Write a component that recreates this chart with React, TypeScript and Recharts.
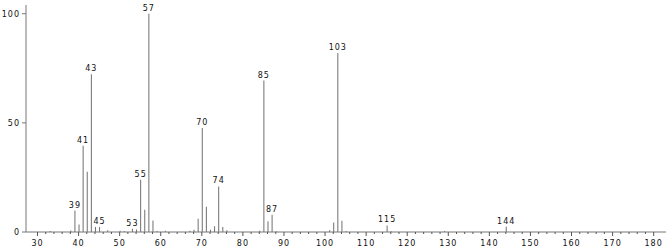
import React from 'react';
import { ComposedChart, Bar, XAxis, YAxis, LabelList } from 'recharts';

const masses = [33, 38, 39, 40, 41, 42, 43, 44, 45, 47, 50, 51, 53, 54, 55, 56, 57, 58, 59, 61, 67, 68, 69, 70, 71, 72, 73, 74, 75, 76, 84, 85, 86, 87, 88, 101, 102, 103, 104, 105, 115, 116, 129, 144];
const intensities = [0.5, 0.7, 9.8, 3.4, 39.5, 27.6, 72.3, 2.3, 2.3, 0.8, 0.6, 0.5, 1.5, 1.1, 23.9, 10.2, 100, 5.3, 0.5, 0.6, 0.6, 1.0, 6.1, 47.7, 11.6, 1.0, 2.6, 20.9, 2.3, 0.8, 0.6, 69.4, 4.9, 7.9, 0.4, 0.8, 4.4, 82.0, 5.2, 0.5, 3.0, 0.4, 0.5, 2.4];
const labeledMasses = [39, 41, 43, 45, 53, 55, 57, 70, 74, 85, 87, 103, 115, 144];
const xTicks = [30, 32, 34, 36, 38, 40, 42, 44, 46, 48, 50, 52, 54, 56, 58, 60, 62, 64, 66, 68, 70, 72, 74, 76, 78, 80, 82, 84, 86, 88, 90, 92, 94, 96, 98, 100, 102, 104, 106, 108, 110, 112, 114, 116, 118, 120, 122, 124, 126, 128, 130, 132, 134, 136, 138, 140, 142, 144, 146, 148, 150, 152, 154, 156, 158, 160, 162, 164, 166, 168, 170, 172, 174, 176, 178, 180];
const yTicks = [0, 50, 100];

const data = masses.map((m, i) => ({ mz: m, abundance: intensities[i] }));

const font = 'Verdana, "DejaVu Sans", sans-serif';

const XTick = (props: any) => {
    const { x, y, payload } = props;
    const major = payload.value % 10 === 0;
    return (
        <g>
            <line x1={x} y1={y} x2={x} y2={y + (major ? 4 : 2)} stroke="#555" />
            {major && (
                <text x={x} y={y + 14} textAnchor="middle" fontSize={8} fill="#111" fontFamily={font} letterSpacing={1}>
                    {payload.value}
                </text>
            )}
        </g>
    );
};

const PeakLabel = (props: any) => {
    const { x, y, width, index } = props;
    const m = masses[index];
    if (!labeledMasses.includes(m)) return null;
    return (
        <text x={x + width / 2} y={y - 3} textAnchor="middle" fontSize={8} fill="#111" fontFamily={font} letterSpacing={1}>
            {m}
        </text>
    );
};

const App = () => {
    return (
        <div>
            <style>{'body{margin:0}'}</style>
            <ComposedChart width={667} height={249} data={data} margin={{ top: 5, right: 1, left: 0, bottom: 0 }}>
                <XAxis
                    dataKey="mz"
                    type="number"
                    domain={[27.2, 183]}
                    ticks={xTicks}
                    tick={<XTick />}
                    tickLine={false}
                    tickSize={0}
                    tickMargin={0}
                    height={17}
                    stroke="#777"
                    interval={0}
                    allowDataOverflow
                />
                <YAxis
                    type="number"
                    domain={[0, 104]}
                    ticks={yTicks}
                    width={26}
                    tickSize={4}
                    tickMargin={2}
                    stroke="#777"
                    tick={{ fontSize: 8, fill: '#111', fontFamily: font, letterSpacing: 1 }}
                    allowDataOverflow
                />
                <Bar dataKey="abundance" fill="#707070" barSize={1} isAnimationActive={false}>
                    <LabelList dataKey="abundance" content={<PeakLabel />} />
                </Bar>
            </ComposedChart>
        </div>
    );
};

export default App;
